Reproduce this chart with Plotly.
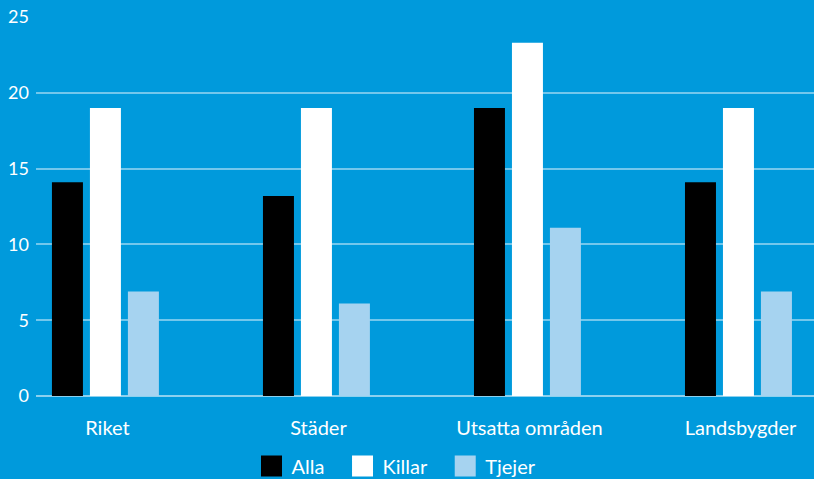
import plotly.graph_objects as go

categories = ["Riket", "Städer", "Utsatta områden", "Landsbygder"]
alla = [14.1, 13.2, 19.0, 14.1]
killar = [19.0, 19.0, 23.3, 19.0]
tjejer = [6.9, 6.1, 11.1, 6.9]
series_names = ["Alla", "Killar", "Tjejer"]
colors = ["#000000", "#FFFFFF", "#A6D3F0"]
y_ticks = [0, 5, 10, 15, 20, 25]

BG = "#009ADC"
FONT = "Lato"

legend_ids = ["legend", "legend2", "legend3"]
legend_x = [0.277, 0.394, 0.526]

fig = go.Figure()
for name, vals, col, lid in zip(series_names, [alla, killar, tjejer], colors, legend_ids):
    fig.add_trace(go.Bar(x=categories, y=vals, name=name, marker_color=col,
                         marker_line_width=0, showlegend=False))
    fig.add_trace(go.Scatter(x=[None], y=[None], mode="markers", name=name,
                             marker=dict(symbol="square", size=16, color=col,
                                         line=dict(width=5, color=col)),
                             showlegend=True, legend=lid))

leg_common = dict(orientation="h", xanchor="left", y=-0.185, yanchor="middle",
                  itemsizing="trace", font=dict(size=20, color="white"),
                  bgcolor="rgba(0,0,0,0)", borderwidth=0)

fig.update_layout(
    width=814, height=479,
    paper_bgcolor=BG, plot_bgcolor=BG,
    margin=dict(l=36, r=0, t=17, b=83, autoexpand=False),
    barmode="group", bargap=0.46, bargroupgap=0.184,
    font=dict(family=FONT, color="white", size=18),
    showlegend=True,
    legend=dict(x=legend_x[0], **leg_common),
    legend2=dict(x=legend_x[1], **leg_common),
    legend3=dict(x=legend_x[2], **leg_common),
)
fig.update_xaxes(range=[-0.329, 3.358], showgrid=False, zeroline=False, showline=False,
                 ticks="", ticklabelstandoff=18, tickangle=0, automargin=False,
                 ticklabelshift=2, tickfont=dict(size=20, color="white"))
fig.update_yaxes(range=[0, 25], tickvals=y_ticks, showgrid=True,
                 gridcolor="rgba(255,255,255,0.45)", gridwidth=1.5,
                 zeroline=True, zerolinecolor="rgba(255,255,255,0.55)", zerolinewidth=1.5,
                 showline=False, ticks="", ticklabelstandoff=6, automargin=False,
                 tickfont=dict(size=18, color="white"))

fig.write_html("out.html", config={"displayModeBar": False})
with open("out.html", "r", encoding="utf-8") as f:
    html = f.read()
html = html.replace("<head>", "<head><style>html,body{margin:0;padding:0;}</style>", 1)
with open("out.html", "w", encoding="utf-8") as f:
    f.write(html)
